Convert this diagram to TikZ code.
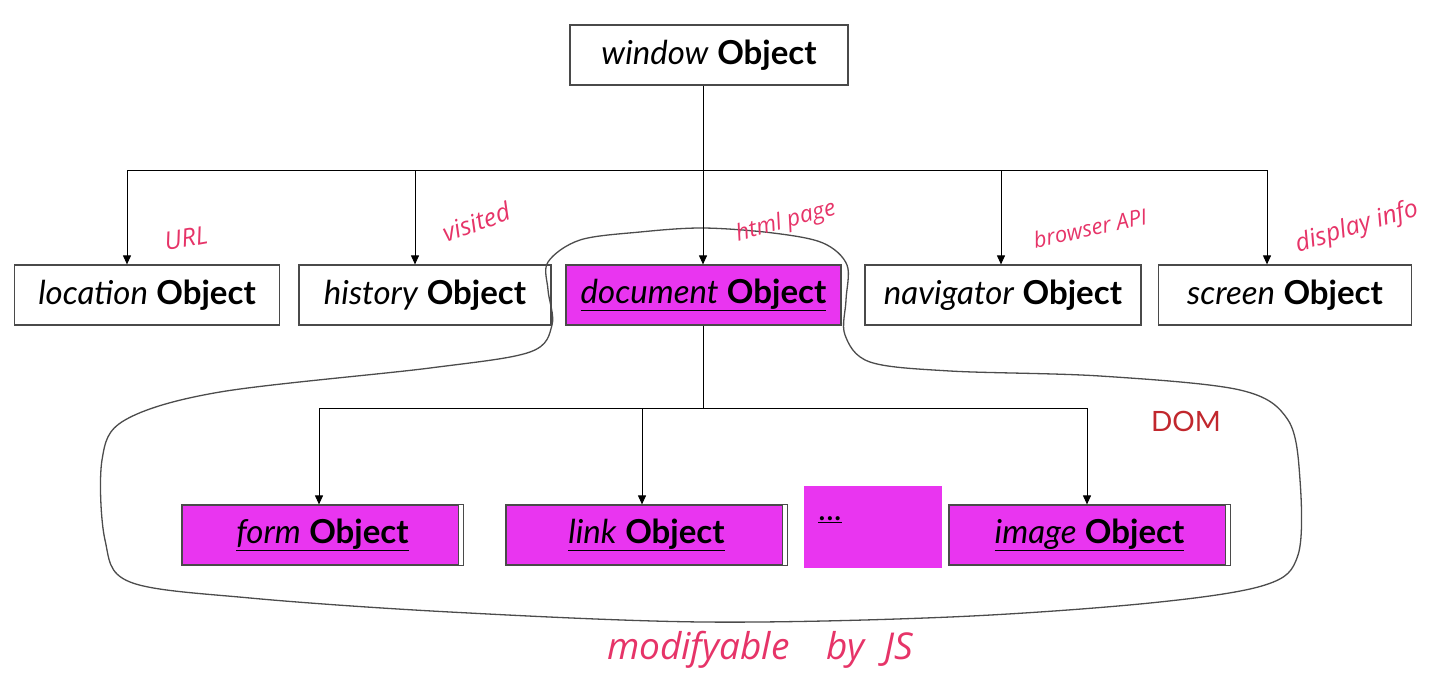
\documentclass[tikz,border=0pt]{standalone}
\usepackage{fontspec}
\setmainfont{Lato}
\newfontfamily\hand{Open Sans}
\usetikzlibrary{arrows.meta}
\definecolor{mag}{HTML}{E935F0}
\definecolor{ink}{HTML}{E63468}
\definecolor{domred}{HTML}{C1272D}
\definecolor{edge}{HTML}{4A4A4A}
\begin{document}
\begin{tikzpicture}[x=1pt,y=-1pt,
  obj/.style={draw=edge,line width=1.2pt,minimum height=60pt,inner sep=0pt,font=\fontsize{33}{35}\selectfont},
  domobj/.style={obj,fill=mag},
  arr/.style={-{Triangle[length=9pt,width=8pt]},line width=1pt},
  bus/.style={line width=1pt},
  hw/.style={text=ink,font=\hand\itshape\fontsize{25}{27}\selectfont,inner sep=0pt},
  blob/.style={draw=black!70,line width=1.3pt}]
\useasboundingbox (0,0) rectangle (1434,686);

% DOM outline
\draw[blob] plot[smooth cycle,tension=0.55] coordinates {
  (548,262) (580,240) (640,232) (703,228) (773,233) (823,243) (847,265)
  (846,300) (845,335) (870,362) (950,371) (1100,376) (1240,390) (1288,420)
  (1300,480) (1298,555) (1265,585) (1150,603) (950,617) (703,622)
  (450,612) (250,598) (130,582) (105,540) (102,460) (125,420) (220,392)
  (430,368) (530,352) (552,325) (548,290)};

% row 1
\node[obj,minimum width=278pt] (win) at (709,55) {\textit{window} \textbf{Object}};
% row 2
\node[obj,minimum width=265pt] (loc) at (147,295) {\textit{location} \textbf{Object}};
\node[obj,minimum width=252pt] (his) at (425,295) {\textit{history} \textbf{Object}};
\node[domobj,minimum width=275pt] (doc) at (703.5,295) {\underline{\textit{document} \textbf{Object}}};
\node[obj,minimum width=276pt] (nav) at (1003,295) {\textit{navigator} \textbf{Object}};
\node[obj,minimum width=253pt] (scr) at (1285,295) {\textit{screen} \textbf{Object}};
% row 3
\node[domobj,minimum width=281pt] (form) at (322.5,535) {\underline{\textit{form} \textbf{Object}}};
\node[domobj,minimum width=281pt] (link) at (646.5,535) {\underline{\textit{link} \textbf{Object}}};
\node[fill=mag,minimum width=138pt,minimum height=82pt,inner sep=0pt] (dots) at (873,527) {};
\node[font=\fontsize{33}{35}\selectfont,inner sep=0pt,anchor=west] (dtxt) at (818,520) {\underline{...}};
\node[domobj,minimum width=281pt] (img) at (1089.5,535) {\underline{\textit{image} \textbf{Object}}};

% double right edges on row 3
\foreach \n in {form,link,img}{
  \fill[white] ([xshift=-5pt,yshift=-0.6pt]\n.north east) rectangle ([xshift=-1pt,yshift=0.6pt]\n.south east);
  \draw[edge,line width=0.9pt] ([xshift=-5pt]\n.north east) -- ([xshift=-5pt]\n.south east);
}

% connectors from window
\coordinate (b1) at (703,170);
\coordinate (aloc) at (127,170);
\coordinate (ahis) at (415,170);
\coordinate (anav) at (1001,170);
\coordinate (ascr) at (1267,170);
\draw[bus] (win.south -| b1) -- (b1);
\draw[bus] (aloc) -- (ascr);
\draw[arr] (aloc) -- (aloc |- loc.north);
\draw[arr] (ahis) -- (ahis |- his.north);
\draw[arr] (b1) -- (b1 |- doc.north);
\draw[arr] (anav) -- (anav |- nav.north);
\draw[arr] (ascr) -- (ascr |- scr.north);

% connectors from document
\coordinate (b2) at (703,408);
\coordinate (aform) at (319,408);
\coordinate (alink) at (642,408);
\coordinate (aimg) at (1087,408);
\draw[bus] (doc.south -| b2) -- (b2);
\draw[bus] (aform) -- (aimg);
\draw[arr] (aform) -- (aform |- form.north);
\draw[arr] (alink) -- (alink |- link.north);
\draw[arr] (aimg) -- (aimg |- img.north);

% labels
\node[text=domred,font=\fontsize{28}{30}\selectfont,inner sep=0pt] (dom) at (1186,421) {DOM};
\node[hw,rotate=10] (l1) at (186,238) {URL};
\node[hw,rotate=20] (l2) at (476,222) {visited};
\node[hw,rotate=15,font=\hand\itshape\fontsize{23}{25}\selectfont] (l3) at (786,222) {html page};
\node[hw,rotate=12,font=\hand\itshape\fontsize{22}{24}\selectfont] (l4) at (1090,228) {browser API};
\node[hw,rotate=17,anchor=west] (l5) at (1296,246) {display info};
\node[hw,font=\hand\itshape\fontsize{37}{39}\selectfont] (l6) at (760,650) {modifyable\quad by\ \ JS};
\end{tikzpicture}
\end{document}
